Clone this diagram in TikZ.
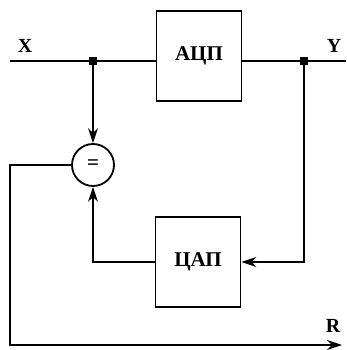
\documentclass[tikz,border=0pt]{standalone}
\usepackage{fontspec}
\setmainfont{Liberation Serif}
\usetikzlibrary{arrows.meta,positioning,calc}

\begin{document}
\begin{tikzpicture}[x=1pt, y=-1pt,
  blk/.style={draw, line width=1.8pt, minimum width=85pt, minimum height=90pt, inner sep=0pt, font=\bfseries\fontsize{21}{21}\selectfont},
  dot/.style={fill, minimum size=8pt, inner sep=0pt},
  cmp/.style={draw, circle, line width=1.8pt, minimum size=42pt, inner sep=0pt, font=\bfseries\fontsize{21}{21}\selectfont},
  lab/.style={font=\bfseries\fontsize{20}{20}\selectfont},
  ln/.style={line width=1.8pt},
  arr/.style={-{Stealth[length=15pt, width=10pt]}, line width=1.8pt}
]
\useasboundingbox (0,0) rectangle (346,350);
% blocks
\node[blk] (adc) at (199,56) {АЦП};
\node[blk] (dac) at (198,262) {ЦАП};
\node[cmp] (cmp) at (93,165) {=};
% branch points
\node[dot] (j1) at (93,61) {};
\node[dot] (j2) at (304,61) {};
\coordinate (xin) at (10,61);
\coordinate (yout) at (346,61);
\coordinate (bl) at (10,345);
\coordinate (rout) at (342,345);
% labels
\node[lab] (xl) at (25,46) {X};
\node[lab] (yl) at (334,46) {Y};
\node[lab] (rl) at (333,326) {R};
% signal lines
\draw[ln] (xin) -- (j1) -- (j1 -| adc.west);
\draw[ln] (j2 -| adc.east) -- (j2) -- (yout);
\draw[arr] (j1) -- (cmp.north);
\draw[arr] (j2) |- (dac.east);
\draw[arr] (dac.west) -| (cmp.south);
\draw[arr] (cmp.west) -| (bl) -- (rout);
\end{tikzpicture}
\end{document}
